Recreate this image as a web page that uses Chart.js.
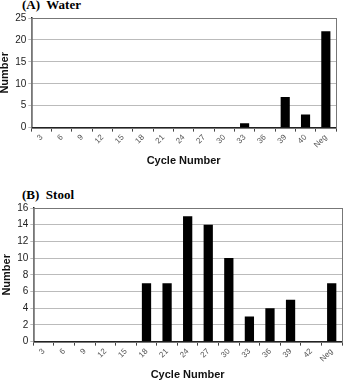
<!DOCTYPE html>
<html>
<head>
<meta charset="utf-8">
<script src="https://cdn.jsdelivr.net/npm/chart.js@4.4.0/dist/chart.umd.min.js"></script>
<style>
    body { margin: 0; background: #fff; }
    #page { position: relative; width: 345px; height: 380px; overflow: hidden; }
    .panel { position: absolute; }
    .label { position: absolute; font-family: "Liberation Serif", "Times New Roman", serif; font-weight: bold; font-size: 13px; color: #000; }
</style>
</head>
<body>
<div id="page">
    <div class="label" style="left: 22px; top: -3px;">(A)&nbsp; Water</div>
    <div class="panel" style="left: -2px; width: 347px; top: 10px; height: 158px;"><canvas id="waterChart"></canvas></div>
    <div class="label" style="left: 22px; top: 187px;">(B)&nbsp; Stool</div>
    <div class="panel" style="left: 0; width: 345px; top: 200px; height: 182px;"><canvas id="stoolChart"></canvas></div>
</div>
<script>
const waterCycles = ['3', '6', '9', '12', '15', '18', '21', '24', '27', '30', '33', '36', '39', '40', 'Neg'];
const waterCounts = [0, 0, 0, 0, 0, 0, 0, 0, 0, 0, 1, 0, 7, 3, 22];
const waterTicks = [0, 5, 10, 15, 20, 25];

const stoolCycles = ['3', '6', '9', '12', '15', '18', '21', '24', '27', '30', '33', '36', '39', '42', 'Neg'];
const stoolCounts = [0, 0, 0, 0, 0, 7, 7, 15, 14, 10, 3, 4, 5, 0, 7];
const stoolTicks = [0, 2, 4, 6, 8, 10, 12, 14, 16];

// draws the gray box round the plot area
const plotBorder = {
    id: 'plotBorder',
    afterDraw(chart) {
        const a = chart.chartArea;
        const ctx = chart.ctx;
        ctx.save();
        ctx.strokeStyle = '#777';
        ctx.lineWidth = 1;
        ctx.strokeRect(Math.round(a.left) + 0.5, Math.round(a.top) + 0.5, Math.round(a.right - a.left), Math.round(a.bottom - a.top));
        ctx.restore();
    }
};

function makeChart(id, cycles, counts, ticks, pad) {
    const ctx = document.getElementById(id).getContext('2d');
    return new Chart(ctx, {
        type: 'bar',
        data: {
            labels: cycles,
            datasets: [{
                data: counts,
                backgroundColor: '#000',
                borderWidth: 0,
                barPercentage: 0.45,
                categoryPercentage: 1
            }]
        },
        options: {
            responsive: true,
            maintainAspectRatio: false,
            animation: false,
            layout: { padding: pad },
            plugins: { legend: { display: false }, tooltip: { enabled: false } },
            scales: {
                x: {
                    grid: { display: true, drawOnChartArea: false, drawTicks: true, tickLength: 4, color: '#444', offset: true },
                    border: { color: '#222', width: 1.5 },
                    ticks: {
                        color: '#555', minRotation: 45, maxRotation: 45, padding: 1,
                        font: { family: 'Liberation Sans', size: 8 }
                    },
                    title: {
                        display: true, text: 'Cycle Number', color: '#111', padding: { top: 4, bottom: 0 },
                        font: { family: 'Liberation Sans', size: 11, weight: 'bold' }
                    }
                },
                y: {
                    min: ticks[0],
                    max: ticks[ticks.length - 1],
                    afterBuildTicks: axis => { axis.ticks = ticks.map(v => ({ value: v })); },
                    grid: { color: '#bbb', drawTicks: true, tickLength: 3 },
                    border: { color: '#222', width: 1.5 },
                    ticks: { color: '#222', padding: 2, font: { family: 'Liberation Sans', size: 10 } },
                    title: {
                        display: true, text: 'Number', color: '#111', padding: { top: 0, bottom: 2 },
                        font: { family: 'Liberation Sans', size: 11, weight: 'bold' }
                    }
                }
            }
        },
        plugins: [plotBorder]
    });
}

makeChart('waterChart', waterCycles, waterCounts, waterTicks, { top: 5, right: 9, left: 0, bottom: 0 });
makeChart('stoolChart', stoolCycles, stoolCounts, stoolTicks, { top: 8, right: 3, left: 0, bottom: 0 });
</script>
</body>
</html>
